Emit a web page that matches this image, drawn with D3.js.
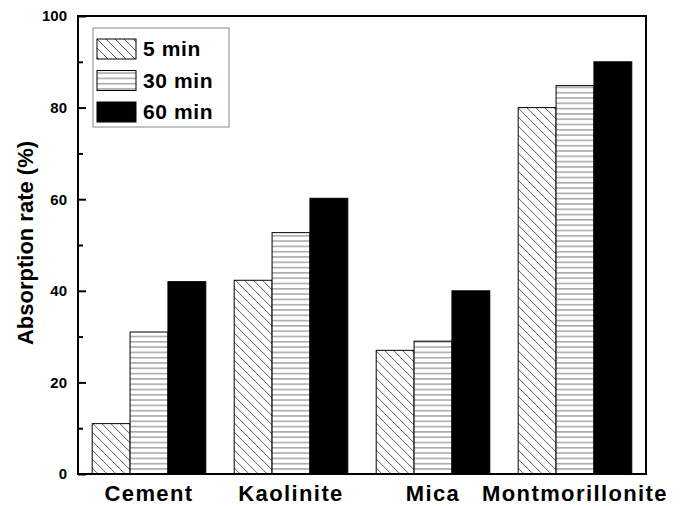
<!DOCTYPE html>
<html>
<head>
<meta charset="utf-8">
<script src="https://cdn.jsdelivr.net/npm/d3@7"></script>
<style>
  html, body { margin: 0; padding: 0; background: #fff; }
  svg { display: block; font-family: Arial, "Liberation Sans", sans-serif; }
</style>
</head>
<body>
<svg id="chart" width="681" height="506"></svg>
<script>
// Absorption rate by clay type and contact time
const categories = ["Cement", "Kaolinite", "Mica", "Montmorillonite"];
const seriesNames = ["5 min", "30 min", "60 min"];
const values5 = [11, 42.3, 27, 80];
const values30 = [31, 52.7, 29, 84.8];
const values60 = [42, 60.2, 40, 90];
const yTicks = [0, 20, 40, 60, 80, 100];
const yMinorTicks = [10, 30, 50, 70, 90];

const seriesValues = [values5, values30, values60];
const fills = ["url(#hatchDiag)", "url(#hatchHoriz)", "#000"];

const svg = d3.select("#chart");
const margin = { left: 78, right: 35, top: 16, bottom: 32 };
const W = 681, H = 506;
const x0 = margin.left, x1 = W - margin.right;
const y0 = H - margin.bottom, y1 = margin.top;

// Patterns for the bar fills
const defs = svg.append("defs");
const pd = defs.append("pattern")
  .attr("id", "hatchDiag").attr("patternUnits", "userSpaceOnUse")
  .attr("width", 9).attr("height", 9);
pd.append("rect").attr("width", 9).attr("height", 9).attr("fill", "#fff");
pd.append("path").attr("d", "M0,0 L9,9 M-9,0 L9,18 M0,-9 L18,9")
  .attr("stroke", "#444").attr("stroke-width", 0.9);

const ph = defs.append("pattern")
  .attr("id", "hatchHoriz").attr("patternUnits", "userSpaceOnUse")
  .attr("width", 10).attr("height", 5.3);
ph.append("rect").attr("width", 10).attr("height", 5.3).attr("fill", "#fff");
ph.append("line").attr("x1", 0).attr("x2", 10).attr("y1", 2.6).attr("y2", 2.6)
  .attr("stroke", "#777").attr("stroke-width", 1);

const x = d3.scaleBand().domain(categories).range([x0, x1])
  .paddingInner(0.2).paddingOuter(0.1);
const xs = d3.scaleBand().domain(seriesNames).range([0, x.bandwidth()]).padding(0);
const y = d3.scaleLinear().domain([0, 100]).range([y0, y1]);

// Bars
const groups = svg.append("g").selectAll("g").data(categories).join("g")
  .attr("transform", d => `translate(${x(d)},0)`);
groups.selectAll("rect")
  .data((c, ci) => seriesNames.map((s, si) => ({ s, si, v: seriesValues[si][ci] })))
  .join("rect")
  .attr("x", d => xs(d.s))
  .attr("width", xs.bandwidth())
  .attr("y", d => y(d.v))
  .attr("height", d => y(0) - y(d.v))
  .attr("fill", d => fills[d.si])
  .attr("stroke", "#000").attr("stroke-width", 1);

// Y axis with inward ticks
const yAxis = svg.append("g").attr("transform", `translate(${x0},0)`)
  .call(d3.axisRight(y).tickValues(yTicks).tickSize(8).tickFormat(""));
yAxis.select(".domain").remove();
yAxis.selectAll("line").attr("stroke-width", 2);
const yMinor = svg.append("g").attr("transform", `translate(${x0},0)`)
  .call(d3.axisRight(y).tickValues(yMinorTicks).tickSize(5).tickFormat(""));
yMinor.select(".domain").remove();
yMinor.selectAll("line").attr("stroke-width", 2);

svg.append("g").selectAll("text").data(yTicks).join("text")
  .attr("x", x0 - 11).attr("y", d => y(d)).attr("dy", "0.36em")
  .attr("text-anchor", "end").attr("font-size", 15).attr("font-weight", "bold")
  .text(d => d);

// Frame
svg.append("rect").attr("x", x0).attr("y", y1)
  .attr("width", x1 - x0).attr("height", y0 - y1)
  .attr("fill", "none").attr("stroke", "#000").attr("stroke-width", 2);

// Category labels
svg.append("g").selectAll("text").data(categories).join("text")
  .attr("x", d => x(d) + x.bandwidth() / 2).attr("y", y0 + 27)
  .attr("text-anchor", "middle").attr("font-size", 22).attr("font-weight", "bold")
  .attr("letter-spacing", 1.4)
  .text(d => d);

// Y title
svg.append("text")
  .attr("transform", `translate(33,243) rotate(-90)`)
  .attr("text-anchor", "middle").attr("font-size", 22).attr("font-weight", "bold")
  .text("Absorption rate (%)");

// Legend
const lg = svg.append("g").attr("transform", "translate(93,28)");
lg.append("rect").attr("width", 136).attr("height", 99)
  .attr("fill", "#fff").attr("stroke", "#888").attr("stroke-width", 1);
const li = lg.selectAll("g").data(seriesNames).join("g")
  .attr("transform", (d, i) => `translate(4,${11 + i * 31.5})`);
li.append("rect").attr("width", 39).attr("height", 20)
  .attr("fill", (d, i) => fills[i]).attr("stroke", "#000").attr("stroke-width", 1);
li.append("text").attr("x", 46).attr("y", 17)
  .attr("font-size", 21).attr("font-weight", "bold").attr("letter-spacing", 0.6)
  .text(d => d);
</script>
</body>
</html>
